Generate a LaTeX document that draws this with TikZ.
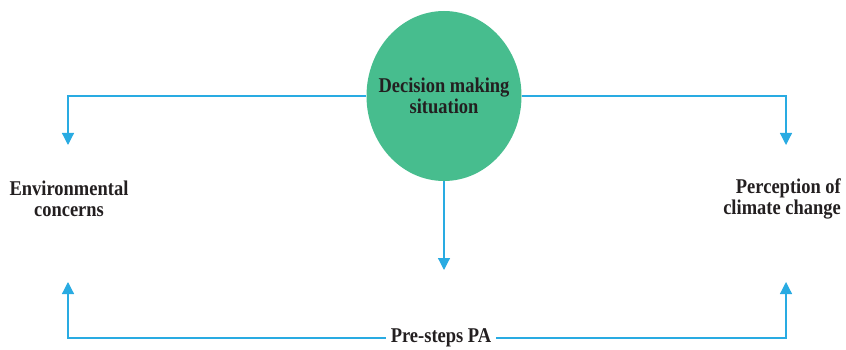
\documentclass[tikz,border=0pt]{standalone}
\usepackage{fontspec}
\setmainfont{Liberation Serif}[FakeStretch=0.88]
\usepackage{tikz}
\usetikzlibrary{arrows.meta, positioning, shapes.geometric}
\definecolor{cgreen}{HTML}{47BD8E}
\definecolor{cblue}{HTML}{29ABE2}
\definecolor{ctext}{HTML}{231F20}
\tikzset{
  lbl/.style={text=ctext, font=\fontsize{21pt}{21pt}\selectfont\bfseries,
              inner sep=5pt},
  blob/.style={ellipse, fill=cgreen, draw=none, minimum width=155pt,
               minimum height=170pt, inner sep=0pt},
  arr/.style={-{Triangle[width=12pt,length=12pt]}, line width=1.2pt, cblue},
}
\begin{document}
\begin{tikzpicture}[x=1pt, y=-1pt]
    \useasboundingbox (0,0) rectangle (846,350);
    \node[blob] (dms) at (444, 96) {};
    \node[lbl, align=center] (dmst) at (dms) {Decision making\\situation};
    \node[lbl, align=center] (env) at (69, 199) {Environmental\\concerns};
    \node[lbl, align=right, anchor=east] (pcc) at (846, 199) {Perception of\\climate change};
    \node[lbl] (psp) at (441, 338) {Pre-steps PA};

    \coordinate (envtop) at (68, 145);
    \coordinate (pcctop) at (786, 145);
    \coordinate (midtip) at (444, 270);
    \coordinate (envbot) at (68, 282);
    \coordinate (pccbot) at (786, 282);

    \draw[arr] (dms.west) -| (envtop);
    \draw[arr] (dms.east) -| (pcctop);
    \draw[arr] (dms.south) -- (midtip);
    \draw[arr] (psp.west) -| (envbot);
    \draw[arr] (psp.east) -| (pccbot);
  \end{tikzpicture}
\end{document}
